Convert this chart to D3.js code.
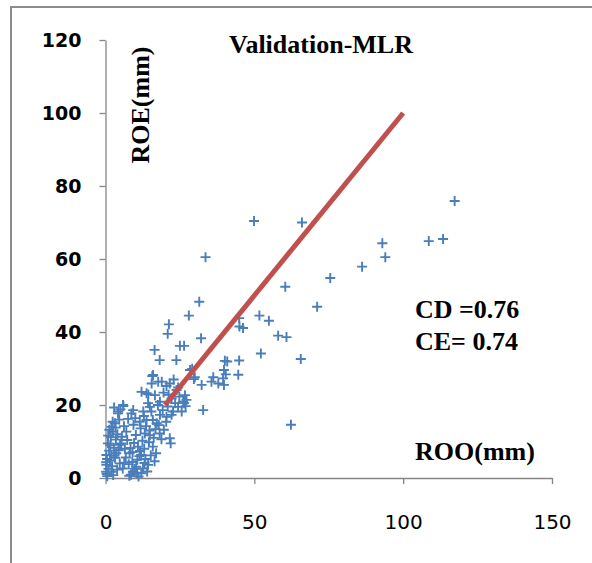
<!DOCTYPE html>
<html>
<head>
<meta charset="utf-8">
<script src="https://cdn.jsdelivr.net/npm/d3@7"></script>
<style>
  body { margin: 0; background: #fff; }
  .axis path, .axis line { stroke: #868686; stroke-width: 1.3; }
  .ylab text { font-family: "DejaVu Sans", sans-serif; font-weight: bold; font-size: 19px; fill: #000; }
  .xlab text { font-family: "DejaVu Sans", sans-serif; font-size: 20px; fill: #000; }
  .lbl { font-family: "Liberation Serif", "Times New Roman", serif; font-weight: bold; font-size: 26px; fill: #000; }
</style>
</head>
<body>
<script>
var w = 592;
var h = 563;

// observed (x) vs estimated (y) runoff, mm
var roo = [117.3, 108.6, 113.4, 93.0, 94.0, 86.2, 75.5, 49.9, 66.0, 33.6,
  60.4, 71.1, 31.5, 28.0, 32.1, 25.0, 26.4, 51.7, 54.9, 44.9,
  45.0, 46.2, 58.0, 60.8, 52.2, 65.6, 44.9, 40.1, 40.9, 39.8,
  40.4, 39.5, 39.8, 44.6, 36.2, 29.1, 30.0, 62.3, 21.3, 20.9,
  16.5, 18.2, 23.8, 28.4, 29.7, 15.7, 17.7, 20.5, 24.4, 12.1,
  14.4, 24.8, 26.7, 26.4, 26.9, 32.8, 16.0, 18.9, 15.5, 21.6,
  23.9, 13.8, 16.6, 18.3, 22.2, 26.1, 27.2, 32.3, 35.6, 37.9,
  24.4, 25.6, 22.2, 20.5, 18.3, 14.9, 12.7, 13.8, 17.2, 21.9,
  21.6, 6.0, 9.3, 4.3, 5.9, 14.3, 17.6, 4.2, 8.7, 15.4,
  22.7, 3.1, 11.5, 15.9, 20.4, 2.5, 7.0, 13.2, 18.2, 0.8,
  5.3, 10.9, 15.9, 0.3, 3.6, 8.1, 12.0, 17.0, 0.3, 4.8,
  10.3, 14.3, 0.2, 2.0, 9.2, 12.0, 1.0, 1.5, 0.5, 2.2,
  1.2, 2.8, 3.5, 1.8, 4.0, 5.5, 6.2, 4.6, 2.0, 3.2,
  4.4, 6.5, 7.3, 6.8, 5.8, 2.6, 0.6, 1.3, 3.9, 7.6,
  5.0, 2.9, 7.8, 8.6, 9.8, 11.1, 10.7, 9.0, 12.6, 13.4,
  11.6, 9.6, 12.4, 14.6, 10.2, 11.8, 13.6, 16.2, 14.8, 9.4,
  15.2, 13.0, 16.8, 10.0, 12.9, 14.0, 8.4, 16.5, 18.8, 19.6,
  17.9, 19.2, 20.9, 23.4, 21.2, 19.5, 22.9, 0.4, 1.6, 3.0,
  0.9, 2.4, 4.9, 6.3, 10.6, 11.4, 9.1, 8.0, 13.1, 14.9,
  0.2, 1.9, 3.4];
var roe = [75.9, 64.9, 65.5, 64.3, 60.5, 57.9, 54.8, 70.4, 70.0, 60.5,
  52.4, 46.9, 48.3, 44.5, 38.3, 36.2, 36.2, 44.5, 43.1, 43.8,
  41.5, 41.1, 39.0, 38.6, 34.1, 32.6, 32.2, 32.1, 31.9, 29.6,
  28.4, 27.3, 25.5, 28.3, 27.6, 29.9, 27.6, 14.6, 42.1, 39.5,
  35.1, 32.3, 32.3, 29.6, 27.1, 27.9, 26.4, 25.2, 24.8, 23.6,
  22.9, 22.3, 22.7, 20.5, 19.7, 18.6, 28.2, 26.4, 25.9, 25.9,
  24.1, 23.2, 22.7, 20.9, 21.8, 20.9, 21.4, 25.5, 26.4, 25.9,
  19.5, 18.2, 17.3, 16.8, 17.3, 19.5, 18.2, 15.9, 15.0, 9.5,
  10.9, 19.7, 18.6, 18.2, 20.0, 20.5, 20.0, 17.7, 17.7, 18.2,
  18.2, 15.0, 15.4, 15.9, 15.4, 12.7, 12.7, 12.2, 12.2, 9.5,
  9.5, 8.6, 8.6, 6.3, 6.8, 6.8, 6.3, 6.8, 3.6, 4.0,
  3.1, 3.6, 1.7, 1.7, 1.7, 1.3, 2.5, 4.8, 5.2, 3.2,
  7.5, 8.3, 10.5, 11.2, 12.0, 11.3, 14.2, 16.0, 14.0, 5.5,
  7.6, 8.0, 10.4, 5.6, 2.6, 0.8, 0.5, 13.2, 2.3, 16.2,
  18.8, 19.3, 3.8, 0.9, 2.5, 0.4, 5.0, 4.4, 2.6, 5.2,
  7.4, 9.6, 10.2, 9.8, 11.8, 13.6, 14.2, 11.0, 13.0, 14.6,
  6.2, 8.0, 13.4, 16.4, 17.0, 1.8, 8.2, 4.6, 10.6, 13.2,
  14.5, 18.6, 19.6, 20.5, 22.8, 23.4, 27.0, 1.1, 9.0, 6.1,
  11.6, 15.4, 9.1, 4.2, 1.4, 6.0, 7.1, 0.6, 4.1, 11.7,
  4.3, 6.2, 13.8];

var fitX = [20, 100];
var fitY = [20, 100];

var xTicks = [0, 50, 100, 150];
var yTicks = [0, 20, 40, 60, 80, 100, 120];

var points = roo.map(function(d, i) {
  return { x: d, y: roe[i] };
});

var svg = d3.select("body").append("svg")
  .attr("width", w)
  .attr("height", h);

// outer frame (only left and top edges show)
svg.append("path")
  .attr("d", "M11,563V7H592")
  .attr("fill", "none")
  .attr("stroke", "#8c8c8c")
  .attr("stroke-width", 2);

var x = d3.scaleLinear()
  .domain([0, 150])
  .range([105.5, 552]);

var y = d3.scaleLinear()
  .domain([0, 120])
  .range([478, 40]);

svg.append("g")
  .attr("class", "axis xlab")
  .attr("transform", "translate(0," + y(0) + ")")
  .call(d3.axisBottom(x).tickValues(xTicks).tickSize(6).tickSizeOuter(0).tickPadding(31));

svg.append("g")
  .attr("class", "axis ylab")
  .attr("transform", "translate(" + x(0) + ",0)")
  .call(d3.axisLeft(y).tickValues(yTicks).tickSize(6).tickSizeOuter(0).tickPadding(18));

svg.selectAll(".axis text").attr("fill", "#000");

svg.append("g")
  .selectAll("path")
  .data(points)
  .enter().append("path")
  .attr("transform", function(d) {
    return "translate(" + x(d.x) + "," + y(d.y) + ")";
  })
  .attr("d", "M-5,0H5M0,-5V5")
  .attr("stroke", "#4a7ebb")
  .attr("stroke-width", 1.9)
  .attr("fill", "none");

var line = d3.line()
  .x(function(d) { return x(d[0]); })
  .y(function(d) { return y(d[1]); });

svg.append("path")
  .attr("d", line(fitX.map(function(d, i) { return [d, fitY[i]]; })))
  .attr("stroke", "#c0504d")
  .attr("stroke-width", 5)
  .attr("fill", "none");

svg.append("text")
  .attr("class", "lbl")
  .attr("x", 229)
  .attr("y", 53)
  .text("Validation-MLR");

svg.append("text")
  .attr("class", "lbl")
  .attr("text-anchor", "middle")
  .attr("transform", "translate(149,105) rotate(-90)")
  .text("ROE(mm)");

svg.append("text")
  .attr("class", "lbl")
  .attr("x", 415)
  .attr("y", 318)
  .text("CD =0.76");

svg.append("text")
  .attr("class", "lbl")
  .attr("x", 415)
  .attr("y", 350)
  .text("CE= 0.74");

svg.append("text")
  .attr("class", "lbl")
  .attr("x", 415)
  .attr("y", 460)
  .text("ROO(mm)");
</script>
</body>
</html>
